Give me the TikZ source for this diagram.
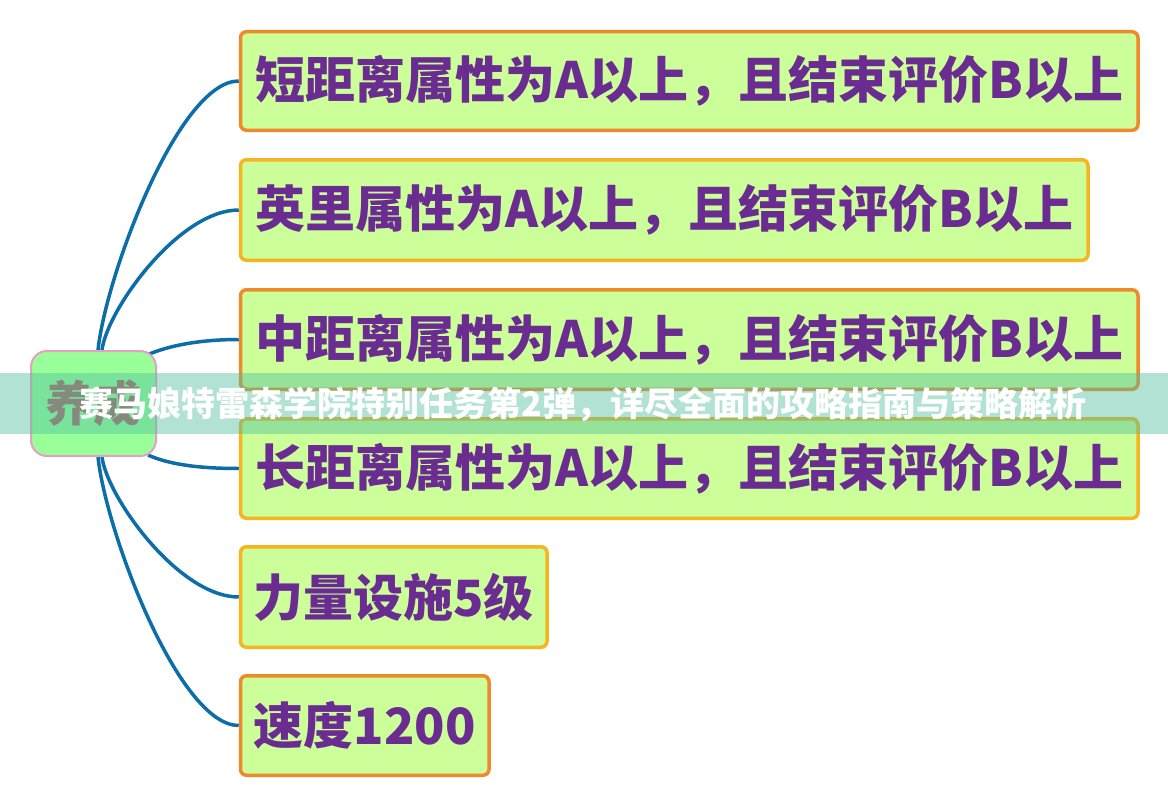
\documentclass[tikz,border=0pt]{standalone}
\usepackage{fontspec}
\setmainfont{Noto Sans CJK SC}
\usetikzlibrary{calc}
\definecolor{boxfill}{RGB}{204,255,153}
\definecolor{orangeb}{RGB}{238,138,42}
\definecolor{yellowb}{RGB}{246,180,30}
\definecolor{txtpurple}{RGB}{106,44,145}
\definecolor{linkblue}{RGB}{12,110,168}
\definecolor{rootfill}{RGB}{153,255,153}
\definecolor{rootline}{RGB}{230,160,196}
\definecolor{roottxt}{RGB}{176,96,100}
\definecolor{bannerc}{RGB}{84,191,159}
\tikzset{
  item/.style={draw, line width=3.5pt, fill=boxfill, rounded corners=6pt,
    anchor=west, text=txtpurple, inner sep=0pt,
    font=\fontsize{50}{60}\selectfont\bfseries},
  orangebox/.style={item, draw=orangeb},
  yellowbox/.style={item, draw=yellowb},
  rootbox/.style={draw=rootline, line width=2pt, fill=rootfill, rounded corners=16pt,
    minimum width=125pt, minimum height=105pt, inner sep=0pt, text=roottxt,
    font=\fontsize{48}{58}\selectfont\bfseries},
  link/.style={draw=linkblue, line width=3.5pt},
  bannertext/.style={text=white, font=\fontsize{34}{40}\selectfont\bfseries, inner sep=0pt}
}
\begin{document}
\begin{tikzpicture}[x=1pt,y=-1pt]
\useasboundingbox[fill=white] (0,0) rectangle (1168,808);
% boxes
\node[orangebox, minimum width=897.5pt, minimum height=98.5pt] (b1) at (238.75,81) {短距离属性为A以上，且结束评价B以上};
\node[yellowbox, minimum width=847.5pt, minimum height=100.5pt] (b2) at (238.75,210) {英里属性为A以上，且结束评价B以上};
\node[orangebox, minimum width=897.5pt, minimum height=99.5pt] (b3) at (238.75,339.5) {中距离属性为A以上，且结束评价B以上};
\node[yellowbox, minimum width=897.5pt, minimum height=99.5pt] (b4) at (238.75,468.5) {长距离属性为A以上，且结束评价B以上};
\node[yellowbox, minimum width=306.5pt, minimum height=100.5pt] (b5) at (238.75,597) {力量设施5级};
\node[orangebox, minimum width=248.5pt, minimum height=99.5pt] (b6) at (238.75,725.5) {速度1200};
% root position (drawn after links)
\path (93.5,403.5) coordinate (rc);
\coordinate (s1) at ($(rc)+(4.5,-53.5)$);
\coordinate (s2) at ($(rc)+(8.5,-53.5)$);
\coordinate (s3) at ($(rc)+(53.5,-48.5)$);
\coordinate (s4) at ($(rc)+(54.5,51.5)$);
\coordinate (s5) at ($(rc)+(8.5,53.5)$);
\coordinate (s6) at ($(rc)+(4.5,53.5)$);
\draw[link] (s1) .. controls +(8,-75) and +(-60,0) .. (b1.west);
\draw[link] (s2) .. controls +(5,-40) and +(-60,0) .. (b2.west);
\draw[link] (s3) .. controls +(23,-10) and +(-37,0) .. (b3.west);
\draw[link] (s4) .. controls +(22,10) and +(-37,0) .. (b4.west);
\draw[link] (s5) .. controls +(5,40) and +(-60,0) .. (b5.west);
\draw[link] (s6) .. controls +(8,75) and +(-60,0) .. (b6.west);
\node[rootbox] (root) at (rc) {养成};
% banner
\fill[bannerc, fill opacity=0.45] (0,373) rectangle (1168,434);
\node[bannertext] (banner) at (583,404) {赛马娘特雷森学院特别任务第2弹，详尽全面的攻略指南与策略解析};
\end{tikzpicture}
\end{document}
